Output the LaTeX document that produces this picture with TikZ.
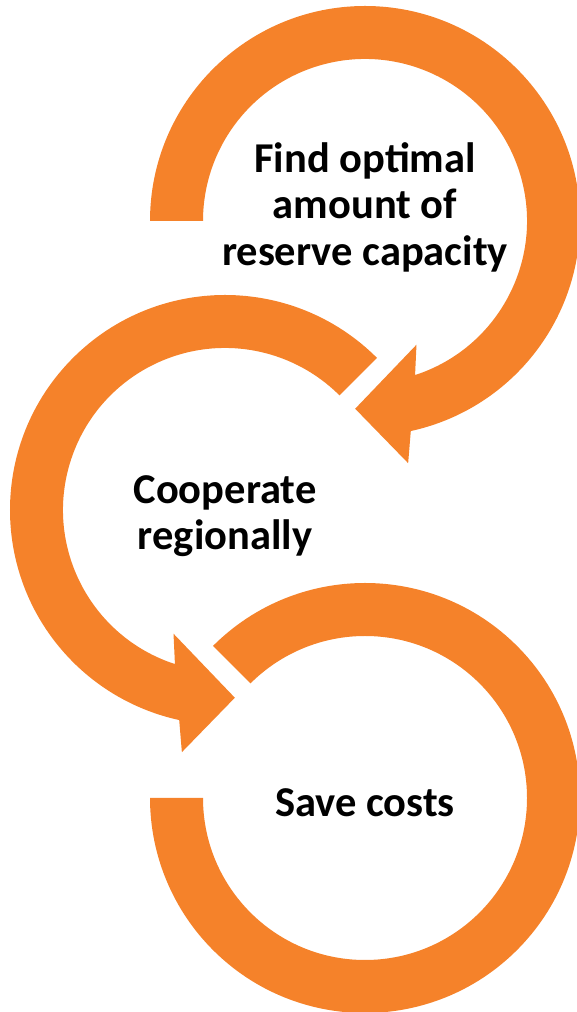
\documentclass[tikz,border=0pt]{standalone}
\usepackage{fontspec}
\setmainfont{Carlito}
\usepackage{tikz}

\definecolor{ringorange}{HTML}{F5822A}

\begin{document}
\begin{tikzpicture}[x=1pt,y=1pt,
   ring/.style={fill=ringorange,draw=none},
   caption/.style={align=center,inner sep=0pt,
      font=\bfseries\fontsize{42.5}{46.5}\selectfont}]
   \useasboundingbox (0,0) rectangle (576,1012);
   \coordinate (r_0) at (365,791);
   \coordinate (r_1) at (225,502);
   \coordinate (r_2) at (365,214);
   % top ring, its arrow points into the middle one
   \fill[ring] ([shift={(180:215pt)}]r_0) arc[start angle=180,end angle=-77.7,radius=215pt]
      -- ([shift={(-79.9:246pt)}]r_0) -- ([shift={(-93:188pt)}]r_0)
      -- ([shift={(-67.4:134pt)}]r_0) -- ([shift={(-72:162pt)}]r_0)
      arc[start angle=-72,end angle=180,radius=162pt] -- cycle;
   % middle ring
   \fill[ring] ([shift={(45:215pt)}]r_1) arc[start angle=45,end angle=257.7,radius=215pt]
      -- ([shift={(259.9:246pt)}]r_1) -- ([shift={(273:188pt)}]r_1)
      -- ([shift={(247.4:134pt)}]r_1) -- ([shift={(252:162pt)}]r_1)
      arc[start angle=252,end angle=45,radius=162pt] -- cycle;
   % bottom ring, no arrow
   \fill[ring] ([shift={(135:215pt)}]r_2) arc[start angle=135,end angle=-180,radius=215pt]
      -- ([shift={(180:162pt)}]r_2)
      arc[start angle=-180,end angle=135,radius=162pt] -- cycle;
   \node[caption] (t_0) at ([yshift=14pt]r_0) {Find optimal\\amount of\\reserve capacity};
   \node[caption] (t_1) at ([yshift=-6pt]r_1) {Cooperate\\regionally};
   \node[caption] (t_2) at ([yshift=-5pt]r_2) {Save costs};
\end{tikzpicture}
\end{document}
